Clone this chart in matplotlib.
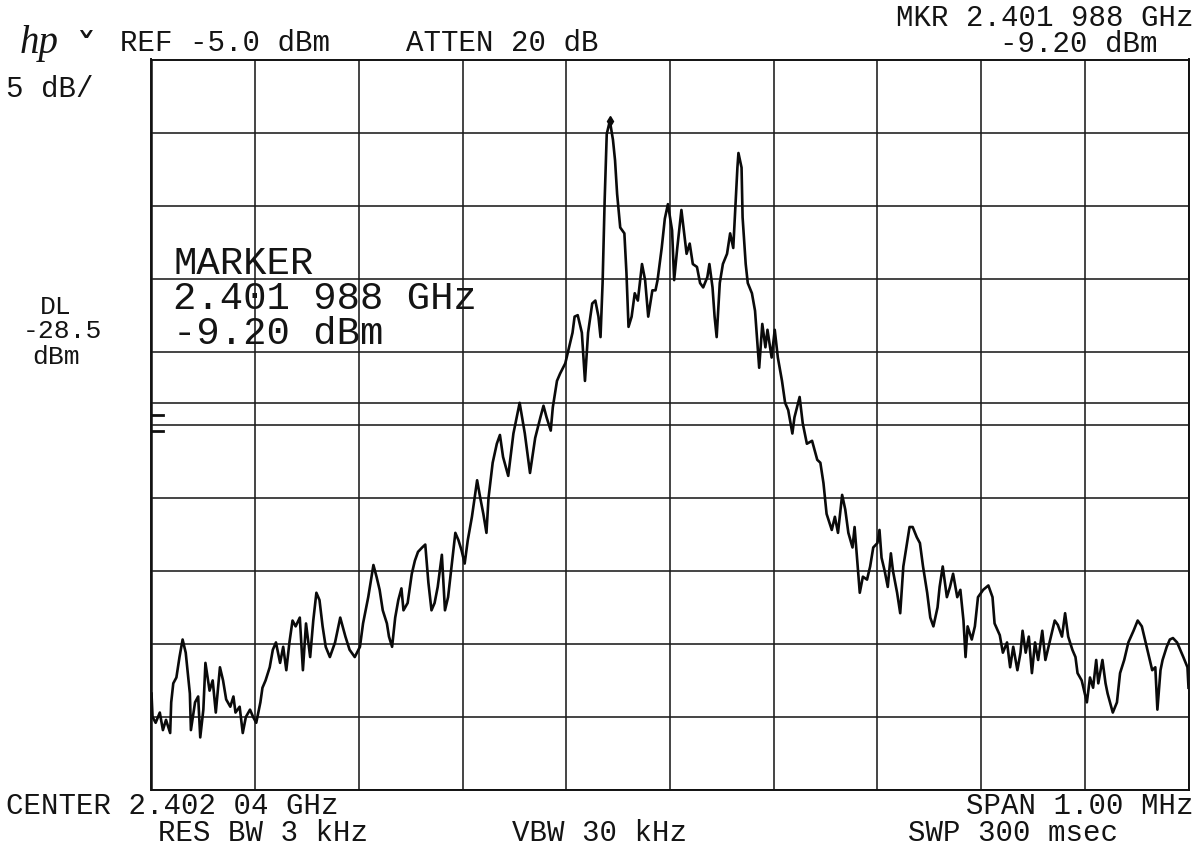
import numpy as np
import matplotlib
matplotlib.use("Agg")
import matplotlib.pyplot as plt

# ---- instrument settings ----
ref_level_dbm = -5.0
db_per_div = 5
n_div_y = 10
n_div_x = 10
span_khz = 1000
display_line_dbm = -28.5
threshold_marks_dbm = [-29.35, -30.45]
marker_offset_khz = -58
marker_level_dbm = -9.2

header_left = ["REF -5.0 dBm", "ATTEN 20 dB"]
header_right = ["MKR 2.401 988 GHz", "-9.20 dBm"]
scale_label = "5 dB/"
dl_label = ["DL", "-28.5", "dBm"]
marker_block = ["MARKER", "2.401 988 GHz", "-9.20 dBm"]
footer = ["CENTER 2.402 04 GHz", "RES BW 3 kHz", "VBW 30 kHz", "SPAN 1.00 MHz", "SWP 300 msec"]

# ---- trace: (frequency offset from center in kHz, level in dBm) ----
trace_low_left = [
    (-500, -48.4), (-499, -50.0), (-496, -50.4), (-492, -49.7), (-489, -50.9), (-486, -50.2),
    (-482, -51.1), (-481, -49.0), (-479, -47.7), (-476, -47.3), (-473, -45.9), (-470, -44.7),
    (-467, -45.6), (-463, -48.4), (-462, -50.9), (-458, -49.0), (-455, -48.6), (-453, -51.4),
    (-450, -49.5), (-448, -46.3), (-444, -48.2), (-441, -47.5), (-438, -49.7), (-434, -46.6),
    (-431, -47.5), (-428, -48.8), (-424, -49.3), (-421, -48.6), (-419, -49.7), (-415, -49.3),
    (-412, -51.1), (-409, -50.0), (-405, -49.5), (-402, -50.0), (-399, -50.4), (-395, -49.0),
    (-393, -48.0), (-390, -47.5), (-386, -46.6), (-383, -45.4), (-380, -44.9), (-376, -46.3),
    (-373, -45.2), (-370, -46.8), (-367, -44.9), (-364, -43.4), (-361, -43.8), (-357, -43.2),
    (-354, -46.8), (-351, -43.6), (-347, -45.9), (-344, -43.4), (-341, -41.5), (-338, -42.0),
    (-335, -43.8), (-332, -45.2), (-328, -45.9),
]
trace_rise = [
    (-323, -44.9), (-318, -43.2), (-313, -44.5), (-309, -45.4), (-304, -45.9), (-299, -45.2),
    (-296, -43.6), (-291, -41.8), (-286, -39.6), (-283, -40.4), (-280, -41.3), (-277, -42.7),
    (-273, -43.6), (-271, -44.5), (-268, -45.2), (-265, -43.2), (-262, -42.0), (-259, -41.2),
    (-257, -42.7), (-253, -42.2), (-249, -40.2), (-246, -39.3), (-243, -38.7), (-239, -38.4),
    (-236, -38.2), (-233, -40.8), (-230, -42.7), (-227, -42.2), (-224, -41.1), (-220, -38.9),
    (-217, -42.7), (-214, -41.8), (-210, -39.3), (-207, -37.4), (-204, -37.9), (-201, -38.6),
    (-198, -39.5), (-195, -37.9), (-191, -36.3), (-186, -33.8), (-183, -35.0), (-180, -36.1),
    (-177, -37.4), (-175, -35.0), (-171, -32.6), (-167, -31.3), (-164, -30.7), (-161, -32.2),
    (-156, -33.5),
]
trace_top = [
    (-151, -30.6), (-145, -28.5), (-140, -30.6), (-135, -33.3), (-130, -30.9), (-125, -29.5),
    (-122, -28.7), (-119, -29.5), (-115, -30.4), (-113, -28.8), (-109, -27.0), (-106, -26.5),
    (-101, -25.8), (-98, -24.9), (-94, -23.7), (-92, -22.6), (-89, -22.5), (-85, -23.7),
    (-82, -27.0), (-79, -23.7), (-75, -21.7), (-72, -21.5), (-69, -22.6), (-67, -24.0),
    (-65, -20.3), (-63, -14.6), (-61, -10.1), (-58, -9.2), (-55, -10.5), (-53, -11.9),
    (-51, -14.2), (-48, -16.5), (-44, -16.9), (-42, -19.6), (-40, -23.3), (-37, -22.6),
    (-34, -21.0), (-31, -21.5), (-27, -19.0), (-24, -20.1), (-21, -22.6), (-17, -20.8),
    (-14, -20.8), (-12, -20.1), (-8, -17.9), (-5, -15.9), (-2, -14.9), (2, -16.7),
    (4, -20.1), (7, -17.9), (11, -15.3), (13, -16.5), (16, -18.3), (19, -17.6),
    (22, -19.0), (26, -19.2), (29, -20.3), (32, -20.6), (36, -19.9), (38, -19.0),
    (41, -20.6), (43, -22.6), (45, -24.0), (48, -20.3), (51, -19.0), (55, -18.3),
    (58, -16.9), (61, -17.9), (63, -15.1), (65, -12.4), (66, -11.4), (69, -12.4),
    (70, -15.8), (73, -19.0), (75, -20.3), (79, -21.0), (82, -22.2), (84, -24.2),
    (86, -26.1), (89, -23.1), (92, -24.7), (94, -23.5), (98, -25.4), (101, -23.5),
    (104, -25.4), (108, -27.0), (111, -28.5), (114, -29.0), (118, -30.6), (120, -29.5),
    (125, -28.1), (128, -29.9), (132, -31.3), (137, -31.1), (142, -32.4),
]
trace_fall = [
    (145, -32.6), (148, -34.0), (151, -36.1), (156, -37.2), (159, -36.3), (162, -37.4),
    (166, -34.8), (169, -35.8), (172, -37.4), (176, -38.4), (178, -37.0), (180, -38.8),
    (183, -41.5), (186, -40.4), (190, -40.6), (193, -39.7), (196, -38.4), (200, -38.1),
    (202, -37.2), (204, -39.1), (207, -40.0), (210, -41.1), (213, -38.8), (215, -40.0),
    (219, -41.5), (222, -42.9), (225, -39.7), (229, -37.9), (231, -37.0), (234, -37.0),
    (238, -37.7), (241, -38.1), (244, -39.7), (248, -41.5), (251, -43.2), (254, -43.8),
    (258, -42.5), (260, -41.1), (263, -39.7), (267, -41.8), (270, -41.1), (273, -40.2),
    (277, -41.8), (280, -41.3), (283, -43.4), (285, -45.9), (287, -43.8), (291, -44.7),
    (294, -43.8), (297, -41.8), (302, -41.3), (307, -41.0), (311, -41.8), (313, -43.6),
    (318, -44.4),
]
trace_low_right = [
    (321, -45.6), (325, -44.9), (328, -46.6), (331, -45.2), (335, -46.8), (338, -45.6),
    (340, -44.1), (343, -45.6), (346, -44.5), (349, -47.0), (352, -44.9), (355, -46.1),
    (359, -44.1), (362, -46.1), (365, -45.2), (368, -44.3), (371, -43.4), (374, -43.7),
    (378, -44.5), (381, -42.9), (384, -44.5), (388, -45.4), (391, -45.9), (393, -47.0),
    (397, -47.5), (400, -48.4), (402, -49.0), (405, -47.3), (408, -48.0), (411, -46.1),
    (413, -47.7), (417, -46.1), (420, -47.7), (422, -48.4), (427, -49.7), (431, -49.0),
    (434, -47.0), (438, -46.1), (442, -44.9), (447, -44.1), (451, -43.4), (455, -43.8),
    (458, -44.7), (461, -45.6), (465, -46.8), (468, -46.6), (470, -49.5), (473, -46.8),
    (475, -46.1), (479, -45.2), (482, -44.7), (485, -44.6), (489, -44.9), (492, -45.4),
    (495, -45.9), (499, -46.6), (500, -48.0),
]

trace = trace_low_left + trace_rise + trace_top + trace_fall + trace_low_right
freq_khz = np.array([p[0] for p in trace], dtype=float)
level_dbm = np.array([p[1] for p in trace], dtype=float)

# ---- figure ----
W, H = 1199, 850
fig = plt.figure(figsize=(W / 100, H / 100), dpi=100)
fig.patch.set_facecolor("white")

left_px, right_px, top_px, bot_px = 151.5, 1188.5, 59.5, 790.0
ax = fig.add_axes([left_px / W, 1 - bot_px / H, (right_px - left_px) / W, (bot_px - top_px) / H])

bottom_dbm = ref_level_dbm - db_per_div * n_div_y
ax.set_xlim(-span_khz / 2, span_khz / 2)
ax.set_ylim(bottom_dbm, ref_level_dbm)
ax.set_xticks(np.linspace(-span_khz / 2, span_khz / 2, n_div_x + 1))
ax.set_yticks(np.linspace(bottom_dbm, ref_level_dbm, n_div_y + 1))
ax.tick_params(length=0, labelbottom=False, labelleft=False)
ax.grid(True, color="#1c1c1c", linewidth=1.15)
ax.set_axisbelow(True)
for s in ax.spines.values():
    s.set_linewidth(1.4)
    s.set_color("#111111")

# display line and threshold marks
ax.axhline(display_line_dbm, color="#1c1c1c", linewidth=1.15)
for t in threshold_marks_dbm:
    ax.axhline(t, xmin=0, xmax=0.011, color="#111111", linewidth=2.0)

ax.plot(freq_khz, level_dbm, color="#0a0a0a", linewidth=1.9, solid_joinstyle="round")
ax.plot([marker_offset_khz], [marker_level_dbm], marker="d", color="#0a0a0a", markersize=5)

MONO = ["Liberation Mono", "DejaVu Sans Mono"]
TC = "#141414"


def ftext(x, y, s, size, ha="left", va="center", **kw):
    fig.text(x / W, 1 - y / H, s, fontsize=size, ha=ha, va=va, color=TC,
             family=kw.pop("family", MONO), **kw)


# hp logo
ftext(20, 44, "hp", 28, family=["Liberation Serif", "DejaVu Serif"], style="italic")
ftext(75, 52, "ˇ", 30, family=["DejaVu Sans"])

HS = 21
# header
ftext(120, 43, header_left[0], HS)
ftext(406, 43, header_left[1], HS)
ftext(1194, 18, header_right[0], HS, ha="right")
ftext(1158, 44, header_right[1], HS, ha="right")
ftext(6, 89, scale_label, HS)

# display line label
ftext(56, 307, dl_label[0], 19, ha="center")
ftext(62, 331, dl_label[1], 19, ha="center")
ftext(56, 357, dl_label[2], 19, ha="center")

# marker readout inside the graticule
ftext(173, 264, marker_block[0], 28)
ftext(173, 299, marker_block[1], 28)
ftext(173, 334, marker_block[2], 28)

# footer
ftext(6, 806, footer[0], HS)
ftext(158, 833, footer[1], HS)
ftext(512, 833, footer[2], HS)
ftext(1194, 806, footer[3], HS, ha="right")
ftext(908, 833, footer[4], HS)

fig.savefig("out.png", dpi=100, facecolor="white")
